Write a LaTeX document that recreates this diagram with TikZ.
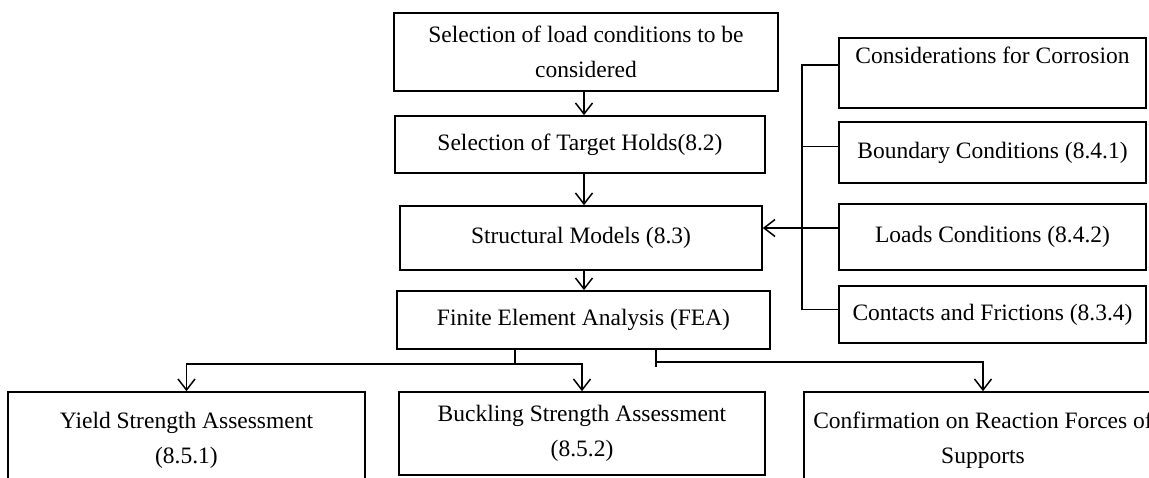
\documentclass[tikz,border=0pt]{standalone}
\usepackage{fontspec}
\setmainfont{Liberation Serif}
\usetikzlibrary{arrows.meta}
\begin{document}
\begin{tikzpicture}[x=1pt,y=-1pt,
  box/.style={draw, line width=1.6pt, rectangle, inner sep=0pt, align=center,
    font=\fontsize{23.5}{35}\selectfont},
  conn/.style={line width=1.6pt},
  arr/.style={conn, -{Straight Barb[length=11pt,width=17pt,line width=1.5pt]}}]
\useasboundingbox (0,0) rectangle (1149,477);
\clip (0,0) rectangle (1149,477);
% main column
\node[box, minimum width=384pt, minimum height=78pt] (sel) at (586,52) {Selection of load conditions to be\\considered};
\node[box, minimum width=370pt, minimum height=57pt] (tgt) at (580,144.5) {Selection of Target Holds(8.2)};
\node[box, minimum width=362pt, minimum height=64pt] (str) at (581,238) {Structural Models (8.3)};
\node[box, minimum width=373pt, minimum height=58pt] (fea) at (583.5,320) {Finite Element Analysis (FEA)};
% right column
\node[box, minimum width=307pt, minimum height=70pt] (cor) at (992.5,73) {Considerations for Corrosion\\\mbox{}};
\node[box, minimum width=307pt, minimum height=61pt] (bnd) at (992.5,152.5) {Boundary Conditions (8.4.1)};
\node[box, minimum width=307pt, minimum height=66pt] (lod) at (992.5,237) {Loads Conditions (8.4.2)};
\node[box, minimum width=307pt, minimum height=57pt] (con) at (992.5,314.5) {Contacts and Frictions (8.3.4)};
% bottom row
\node[box, minimum width=357pt, minimum height=96pt] (yld) at (186.5,440) {Yield Strength Assessment\\(8.5.1)};
\node[box, minimum width=366pt, minimum height=83pt] (bck) at (582,433.5) {Buckling Strength Assessment\\(8.5.2)};
\node[box, minimum width=358pt, minimum height=96pt] (cnf) at (983,440) {Confirmation on Reaction Forces of\\Supports};
% connectors
\coordinate (ax) at (584,0);
\draw[arr] (sel.south -| ax) -- (tgt.north -| ax);
\draw[arr] (tgt.south -| ax) -- (str.north -| ax);
\draw[arr] (str.south -| ax) -- (fea.north -| ax);
\coordinate (b1) at (515,364);
\coordinate (b2) at (656,362);
\draw[conn] (fea.south -| b1) -- (b1);
\draw[arr] (b1) -| (yld.north);
\draw[arr] (b1) -| (bck.north);
\draw[conn] (fea.south -| b2) -- ++(0,17);
\draw[arr] (b2) -| (cnf.north);
\coordinate (bx) at (802,0);
\draw[conn] ([yshift=8pt]cor.west) -| ([yshift=5pt]con.west -| bx) -- ([yshift=5pt]con.west);
\draw[conn] ([yshift=6pt]bnd.west) -- ([yshift=6pt]bnd.west -| bx);
\draw[arr] ([yshift=9pt]lod.west) -- ([yshift=9pt]lod.west -| str.east);
\end{tikzpicture}
\end{document}
